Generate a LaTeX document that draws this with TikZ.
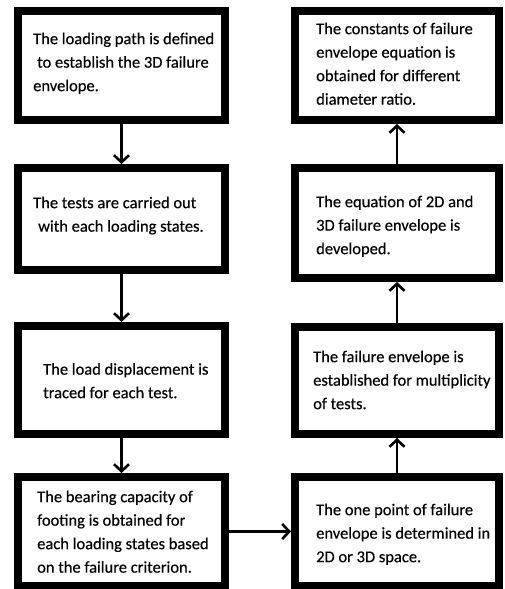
\documentclass[tikz,border=0pt]{standalone}
\usepackage{fontspec}
\setmainfont[UprightFeatures={FakeBold=0.4}]{Carlito}
\usepackage{tikz}
\usetikzlibrary{arrows.meta}

\tikzset{
  stepbox/.style={draw, line width=8pt, outer sep=4pt, inner sep=0pt, minimum width=207pt},
  steptext/.style={anchor=north west, inner sep=0pt, align=left, font=\fontsize{16.5}{23.5}\selectfont},
  steparrow/.style={line width=2.6pt, -{Straight Barb[length=7pt,width=15pt]}}
}

\begin{document}
\begin{tikzpicture}[x=1pt, y=-1pt]

    \useasboundingbox (0,0) rectangle (505,589);

    \node[stepbox, minimum height=109pt] (loadpath) at (121.5,65.5) {};
    \node[steptext] (loadpathtext) at (33,27.5) {\strut The loading path is defined\\\hspace*{4pt}to establish the 3D failure\\envelope.};

    \node[stepbox, minimum height=102pt] (tests) at (121.5,219) {};
    \node[steptext] (teststext) at (33,191.5) {\strut The tests are carried out\\\hspace*{5pt}with each loading states.};

    \node[stepbox, minimum height=108pt] (trace) at (121.5,380) {};
    \node[steptext] (tracetext) at (43,358) {\strut The load displacement is\\traced for each test.};

    \node[stepbox, minimum height=109pt] (bearing) at (121.5,531.5) {};
    \node[steptext] (bearingtext) at (37,485.5) {\strut The bearing capacity of\\footing is obtained for\\each loading states based\\on the failure criterion.};



    \begin{scope}[xshift=275.5]

      \node[stepbox, minimum width=204pt, minimum height=109pt] (constants) at (121.5,65.5) {};
      \node[steptext] (constantstext) at (40.5,17.5) {\strut The constants of failure\\envelope equation is\\obtained for different\\diameter ratio.};

      \node[stepbox, minimum width=204pt, minimum height=110pt] (equation) at (121.5,223) {};
      \node[steptext] (equationtext) at (40.5,190.5) {\strut The equation of 2D and\\3D failure envelope is\\developed.};

      \node[stepbox, minimum width=204pt, minimum height=107pt] (envelope) at (121.5,380.5) {};
      \node[steptext] (envelopetext) at (37.5,345.5) {\strut The failure envelope is\\established for multiplicity\\of tests.};

      \node[stepbox, minimum width=204pt, minimum height=109pt] (point) at (121.5,531.5) {};
      \node[steptext] (pointtext) at (40.5,498.5) {\strut The one point of failure\\envelope is determined in\\2D or 3D space.};

    \end{scope}



    \draw[steparrow] (loadpath) -- (tests);
    \draw[steparrow] (tests) -- (trace);
    \draw[steparrow] (trace) -- (bearing);
    \draw[steparrow] (bearing) -- (point);
    \draw[steparrow] (point) -- (envelope);
    \draw[steparrow] (envelope) -- (equation);
    \draw[steparrow] (equation) -- (constants);

  \end{tikzpicture}
\end{document}
